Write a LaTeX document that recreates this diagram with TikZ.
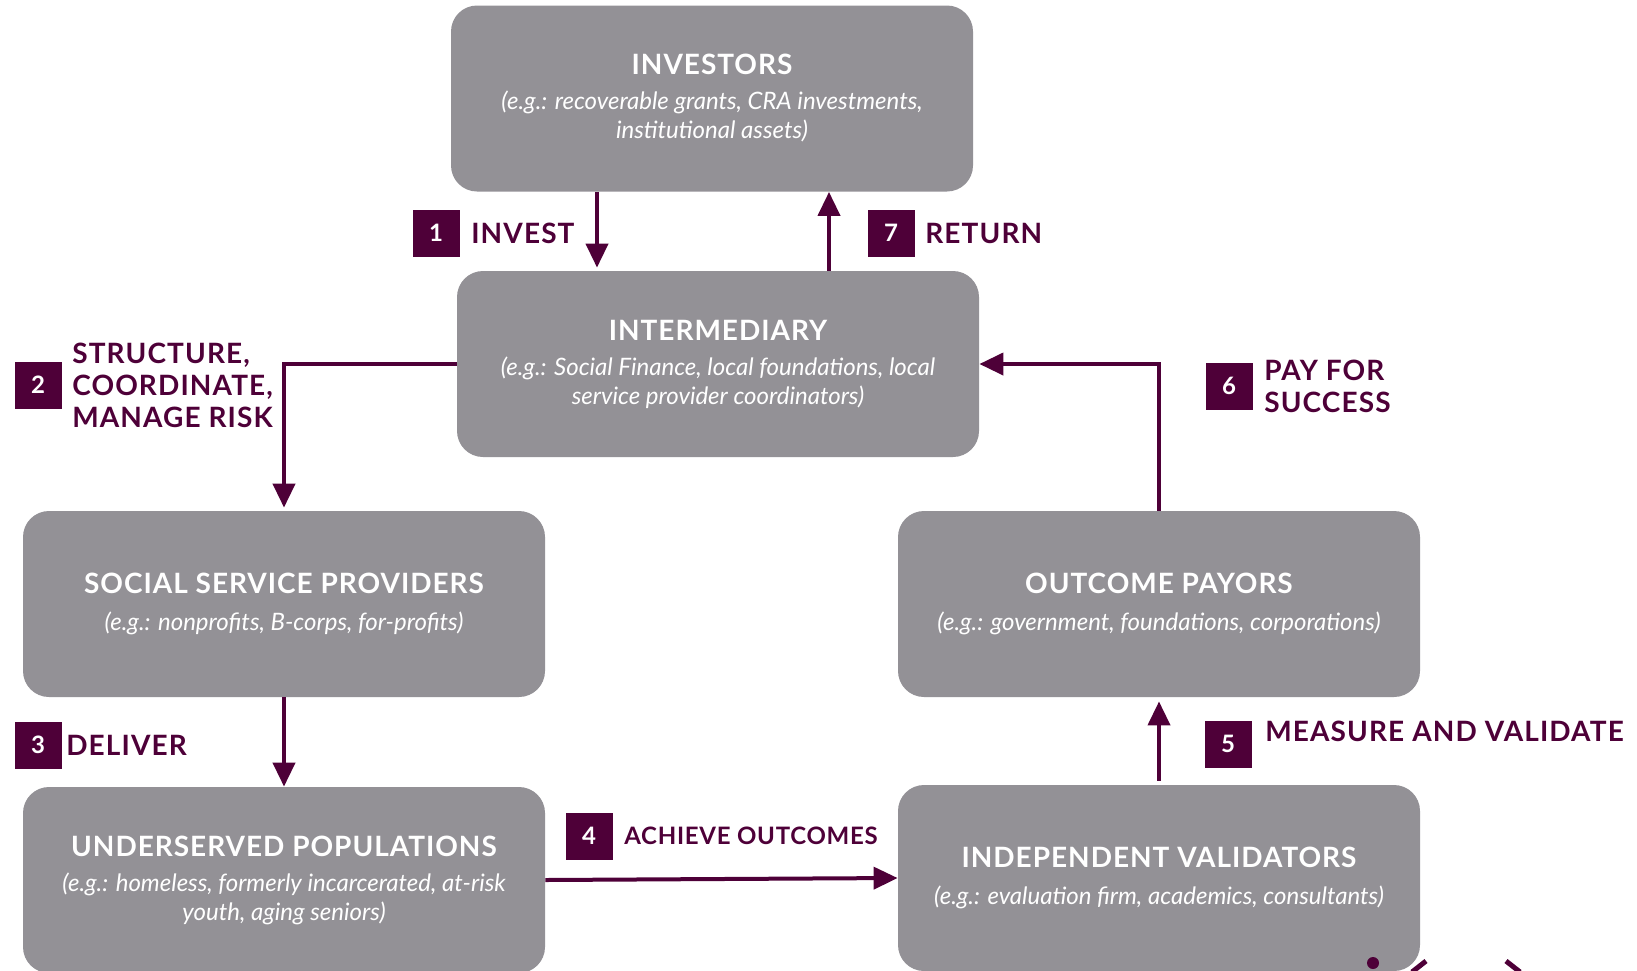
\documentclass[tikz,border=0pt]{standalone}
\usepackage{fontspec}
\setmainfont{Lato}
\usetikzlibrary{arrows.meta}

\definecolor{plum}{HTML}{4E0038}
\definecolor{boxgray}{HTML}{939196}

\tikzset{
  party/.style={fill=boxgray, rounded corners=13pt, minimum width=261pt, minimum height=93pt,
    inner sep=0pt, align=center, text=white, font=\itshape\fontsize{12}{14.5}\selectfont},
  badge/.style={fill=plum, minimum size=23.5pt, inner sep=0pt, text=white,
    font=\bfseries\fontsize{12}{12}\selectfont},
  steplabel/.style={anchor=west, inner sep=0pt, text=plum, align=left,
    font=\bfseries\fontsize{14}{16}\selectfont\addfontfeatures{LetterSpace=4}},
  flow/.style={draw=plum, line width=2pt, -{Triangle[width=11pt,length=12pt]}},
}

\newcommand\Head[1]{{\upshape\bfseries\fontsize{14}{16}\selectfont\addfontfeatures{LetterSpace=3.5}#1}}

\begin{document}
\begin{tikzpicture}[x=0.5pt, y=-0.5pt]

  \useasboundingbox (0,0) rectangle (1637,970);

  %% the six parties
  \node[party] (investors) at (712,98.5) {\Head{INVESTORS}\\[3pt]
    (e.g.: recoverable grants, CRA investments,\\ institutional assets)};
  \node[party] (intermediary) at (718,364) {\Head{INTERMEDIARY}\\[3pt]
    (e.g.: Social Finance, local foundations, local\\ service provider coordinators)};
  \node[party] (providers) at (284,604) {\Head{SOCIAL SERVICE PROVIDERS}\\[4pt]
    (e.g.: nonprofits, B-corps, for-profits)};
  \node[party] (payors) at (1159,604) {\Head{OUTCOME PAYORS}\\[4pt]
    (e.g.: government, foundations, corporations)};
  \node[party] (populations) at (284,880) {\Head{UNDERSERVED POPULATIONS}\\[3pt]
    (e.g.: homeless, formerly incarcerated, at-risk\\ youth, aging seniors)};
  \node[party] (validators) at (1159,878) {\Head{INDEPENDENT VALIDATORS}\\[4pt]
    (e.g.: evaluation firm, academics, consultants)};

  \coordinate (investx) at (597,0);
  \coordinate (returnx) at (829,0);

  %% flows
  \draw[flow, shorten >=1.5pt] (investors.south -| investx) -- (intermediary.north -| investx); %% 1
  \draw[flow] (intermediary.north -| returnx) -- (investors.south -| returnx); %% 7
  \draw[flow, shorten >=1.5pt] (intermediary.west) -| (providers.north); %% 2
  \draw[flow] (providers.south) -- (populations.north); %% 3
  \draw[flow] (populations.east) -- (validators.west); %% 4
  \draw[flow, shorten <=2pt, shorten >=2pt] (validators.north) -- (payors.south); %% 5
  \draw[flow] (payors.north) |- (intermediary.east); %% 6

  %% numbered steps
  \node[badge] (b1) at (436,233) {1};
  \node[steplabel] (invest) at ([xshift=5.5pt]b1.east) {INVEST};
  \node[badge] (b7) at (891,233) {7};
  \node[steplabel] (return) at ([xshift=5pt]b7.east) {RETURN};
  \node[badge] (b2) at (38,385) {2};
  \node[steplabel] (structure) at ([xshift=5pt]b2.east) {STRUCTURE,\\ COORDINATE,\\ MANAGE RISK};
  \node[badge] (b6) at (1229,386) {6};
  \node[steplabel] (pay) at ([xshift=5.5pt]b6.east) {PAY FOR\\ SUCCESS};
  \node[badge] (b3) at (38,745) {3};
  \node[steplabel] (deliver) at ([xshift=2pt]b3.east) {DELIVER};
  \node[badge] (b5) at (1228,744) {5};
  \node[steplabel] (measure) at ([xshift=6.5pt, yshift=6.5pt]b5.east) {MEASURE AND VALIDATE};
  \node[badge] (b4) at (589,836) {4};
  \node[steplabel, font=\bfseries\fontsize{12}{14}\selectfont\addfontfeatures{LetterSpace=3}] (achieve)
    at ([xshift=5.5pt]b4.east) {ACHIEVE OUTCOMES};

  %% cut-off marks at the lower edge
  \fill[plum] (1373,963) circle (3pt);
  \draw[plum, line width=2.5pt] (1412,972) -- (1426,961);
  \draw[plum, line width=2.5pt] (1506,961) -- (1520,972);

\end{tikzpicture}
\end{document}
